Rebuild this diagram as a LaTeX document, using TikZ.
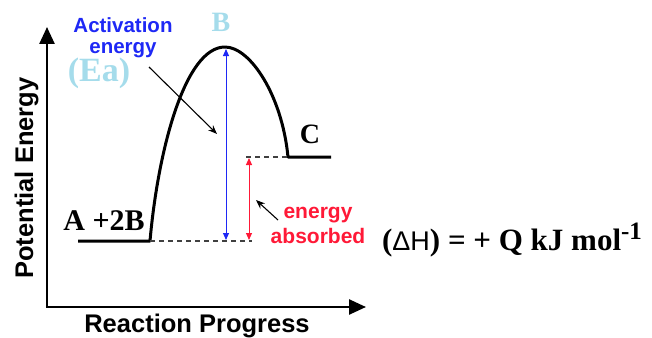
\documentclass[tikz,border=0pt]{standalone}
\usepackage{fontspec}
\setmainfont{Liberation Serif}
\setsansfont{Liberation Sans}
\usepackage{tikz}
\usetikzlibrary{arrows.meta,positioning,calc}
\definecolor{eablue}{RGB}{30,40,245}
\definecolor{paleblue}{RGB}{165,220,235}
\definecolor{absred}{RGB}{255,25,55}

\begin{document}
\begin{tikzpicture}[
    x=1pt, y=-1pt,
    axis/.style={line width=2.5pt, -{Triangle[length=17pt,width=15pt]}},
    curve/.style={line width=3pt, line join=round},
    level/.style={dash pattern=on 5pt off 4pt, line width=1.2pt, black!75},
    gap/.style={line width=1pt, {Triangle[length=7pt,width=6pt]}-{Triangle[length=7pt,width=6pt]}},
    pointer/.style={line width=1.1pt, -{Stealth[length=9pt,width=7pt]}},
    species/.style={font=\fontsize{28}{28}\selectfont\bfseries, inner sep=0},
    note/.style={font=\sffamily\bfseries, align=center, inner sep=0},
    axislabel/.style={font=\fontsize{25.5}{26}\selectfont\sffamily\bfseries, inner sep=0}
]
    \useasboundingbox (0,0) rectangle (652,337);

    % axes
    \coordinate (o) at (47,307);
    \coordinate (ytip) at (47,27);
    \coordinate (xtip) at (366,307);
    \draw[axis] (o) -- (ytip);
    \draw[axis] ([xshift=-1.25pt]o) -- (xtip);
    \node[axislabel, rotate=90, anchor=base] (ylab) at (33,178) {Potential Energy};
    \node[axislabel, anchor=base] (xlab) at (197,332) {Reaction Progress};

    % energy profile
    \coordinate (r0) at (78,241);
    \coordinate (r1) at (150,241);
    \coordinate (ts) at (225,47);
    \coordinate (p1) at (288,157);
    \coordinate (p0) at (331,157);
    \draw[curve] (r0) -- (r1) .. controls (158,150) and (185,47) .. (ts)
        .. controls (250,47) and (282,95) .. (p1) -- (p0);

    \coordinate (rend) at (252,241);
    \coordinate (pend) at (246,157);
    \draw[level] (r1) -- (rend);
    \draw[level] (pend) -- (p1);

    % energy gaps
    \coordinate (eatop) at (226,49);
    \coordinate (eabot) at (226,240);
    \coordinate (dhtop) at (249,158);
    \coordinate (dhbot) at (249,240);
    \draw[gap, eablue] (eatop) -- (eabot);
    \draw[gap, absred] (dhtop) -- (dhbot);

    % labels
    \node[species, paleblue, anchor=base] (tsname) at (221,31) {B};
    \node[species, anchor=base] (prod) at (310,143) {C};
    \node[species, font=\fontsize{30}{30}\selectfont\bfseries, anchor=base] (reac) at (104,230) {A +2B};
    \node[note, eablue, font=\fontsize{20.5}{21}\selectfont\sffamily\bfseries, anchor=north] (act) at (123,17) {Activation\\energy};
    \node[species, paleblue, font=\fontsize{34}{34}\selectfont\bfseries, anchor=base] (ea) at (99,81) {(Ea)};
    \node[note, absred, font=\fontsize{21}{25}\selectfont\sffamily\bfseries, anchor=south] (abs) at (318,244) {energy\\absorbed};
    \node[font=\fontsize{31}{31}\selectfont\bfseries, inner sep=0, anchor=base] (dh) at (512,250)
        {(\textmd{\sffamily\fontsize{27}{27}\selectfont ΔH}) = + Q kJ mol\raisebox{11pt}{\fontsize{25}{25}\selectfont -1}};

    \coordinate (actend) at (217,134);
    \coordinate (absend) at (256,200);
    \draw[pointer] (149,67) -- (actend);
    \draw[pointer] (278,220) -- (absend);
\end{tikzpicture}
\end{document}
